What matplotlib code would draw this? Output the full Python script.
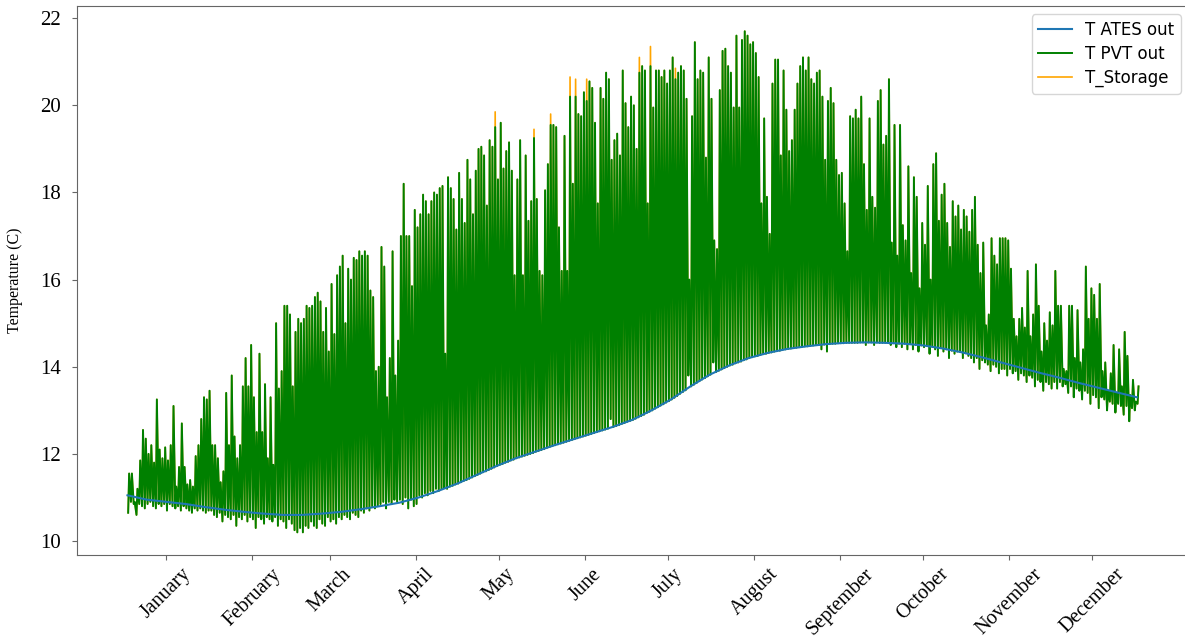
import numpy as np
import matplotlib
matplotlib.use("Agg")
import matplotlib.pyplot as plt

# Daily maximum of the PVT outlet temperature (C), one list per month
pvt_peak_jan = [11.55, 11.55, 10.9, 11.2, 11.85, 12.55, 12.35, 12.0, 12.2, 11.8, 13.25, 12.1, 11.9, 12.15, 11.85, 12.2,
                13.1, 11.25, 11.7, 12.7, 11.7, 11.3, 11.4, 11.25, 11.95, 12.2, 12.8, 13.3, 13.25, 13.45, 12.2]
pvt_peak_feb = [12.2, 11.9, 11.35, 11.6, 13.4, 12.2, 13.8, 12.4, 11.9, 12.2, 13.55, 14.2, 13.55, 14.5, 13.3, 12.5,
                14.3, 12.5, 13.6, 11.9, 13.3, 11.75, 15.0, 13.5, 13.9, 15.4, 15.4, 15.2]
pvt_peak_mar = [13.55, 14.8, 15.1, 15.0, 15.1, 15.4, 15.35, 15.4, 15.6, 15.7, 15.5, 14.8, 15.35, 14.35, 15.9, 14.75,
                16.1, 16.3, 16.55, 15.0, 16.25, 16.0, 16.5, 16.45, 16.65, 16.55, 16.65, 16.55, 15.75, 15.6, 13.9]
pvt_peak_apr = [14.0, 16.75, 16.3, 13.3, 14.2, 16.65, 13.8, 14.6, 17.0, 18.2, 17.0, 17.0, 15.85, 17.6, 17.2, 17.5,
                17.95, 17.8, 17.5, 17.8, 18.0, 17.95, 18.1, 18.15, 14.3, 18.35, 18.1, 17.85, 17.15, 18.45]
pvt_peak_may = [17.85, 17.3, 18.75, 18.3, 17.5, 18.5, 19.0, 19.05, 18.85, 17.7, 19.2, 19.05, 19.5, 18.3, 19.6, 18.55,
                18.95, 19.15, 18.5, 16.1, 18.3, 19.2, 16.1, 18.85, 17.35, 17.8, 19.25, 17.85, 16.2, 16.1, 18.05]
pvt_peak_jun = [18.65, 19.55, 19.55, 19.5, 17.2, 16.2, 19.3, 16.2, 20.2, 18.2, 20.2, 19.8, 19.75, 20.3, 20.1, 20.55,
                20.4, 19.6, 17.75, 20.4, 20.15, 20.75, 20.6, 18.75, 19.2, 19.35, 18.85, 20.8, 20.05, 19.5]
pvt_peak_jul = [20.2, 20.0, 19.0, 20.75, 20.9, 20.8, 17.75, 20.9, 19.95, 20.8, 20.8, 20.65, 20.8, 20.5, 20.8, 21.1,
                20.6, 20.75, 20.9, 20.8, 20.15, 16.0, 19.75, 21.45, 20.6, 20.8, 20.75, 18.8, 21.1, 20.15, 16.9]
pvt_peak_aug = [16.7, 20.35, 21.25, 21.3, 20.9, 20.75, 19.95, 21.6, 19.95, 21.5, 21.7, 21.6, 21.4, 21.45, 21.2, 20.65,
                17.75, 19.7, 17.9, 17.05, 20.5, 21.05, 21.05, 18.85, 20.8, 19.9, 18.95, 19.2, 19.9, 20.5, 20.9]
pvt_peak_sep = [21.1, 20.8, 21.1, 20.6, 20.5, 20.75, 20.8, 20.2, 18.75, 20.1, 20.4, 20.05, 18.75, 18.4, 18.45, 17.75,
                16.65, 19.75, 19.7, 19.9, 19.7, 20.2, 18.65, 17.6, 19.7, 17.9, 17.65, 20.1, 20.35, 19.1]
pvt_peak_oct = [19.3, 20.6, 16.85, 19.55, 16.55, 19.55, 17.25, 16.9, 18.6, 16.15, 18.35, 17.9, 15.8, 17.3, 16.8, 18.15,
                16.0, 18.65, 18.9, 17.35, 17.95, 18.2, 17.3, 16.75, 17.8, 17.45, 17.7, 17.15, 17.6, 17.45, 17.1]
pvt_peak_nov = [17.6, 17.9, 16.8, 16.15, 16.85, 14.95, 15.2, 16.95, 16.55, 16.35, 16.95, 16.95, 16.95, 16.9, 16.25, 15.1,
                14.7, 15.1, 15.35, 14.9, 16.2, 14.7, 15.2, 16.35, 15.4, 14.35, 15.0, 14.6, 15.25, 14.95]
pvt_peak_dec = [16.2, 15.4, 15.4, 13.95, 13.9, 15.4, 15.4, 14.2, 15.3, 14.1, 14.4, 16.3, 15.1, 15.8, 15.65, 15.1,
                15.9, 13.9, 14.1, 13.45, 13.85, 14.5, 13.4, 14.4, 13.55, 14.8, 14.25, 13.35, 13.7, 13.2, 13.55]

# Nightly minimum of the PVT outlet temperature (C)
pvt_low_jan = [10.65, 10.9, 10.85, 10.6, 10.85, 10.8, 10.75, 10.85, 10.9, 10.8, 10.75, 10.85, 10.8, 10.85, 10.7, 10.85,
               10.8, 10.75, 10.8, 10.7, 10.8, 10.75, 10.7, 10.65, 10.75, 10.7, 10.75, 10.7, 10.65, 10.7, 10.7]
pvt_low_feb = [10.6, 10.55, 10.65, 10.45, 10.6, 10.55, 10.5, 10.6, 10.35, 10.55, 10.5, 10.6, 10.45, 10.55, 10.5, 10.3,
               10.55, 10.5, 10.4, 10.55, 10.5, 10.45, 10.55, 10.35, 10.5, 10.45, 10.3, 10.5]
pvt_low_mar = [10.4, 10.25, 10.2, 10.3, 10.2, 10.35, 10.3, 10.45, 10.35, 10.3, 10.5, 10.4, 10.35, 10.55, 10.45, 10.5,
               10.4, 10.55, 10.5, 10.6, 10.55, 10.5, 10.65, 10.6, 10.55, 10.7, 10.65, 10.75, 10.7, 10.8, 10.75]
pvt_low_apr = [10.8, 10.85, 10.9, 10.75, 10.9, 10.85, 10.95, 10.9, 10.95, 10.85, 11.0, 10.75, 10.95, 10.8, 10.85, 11.05,
               11.0, 11.1, 11.05, 11.15, 11.1, 11.2, 11.15, 11.2, 11.22, 11.2, 11.25, 11.27, 11.3, 11.32]
pvt_low_may = [11.35, 11.38, 11.4, 11.43, 11.46, 11.49, 11.52, 11.55, 11.58, 11.6, 11.63, 11.66, 11.69, 11.72, 11.75,
               11.77, 11.8, 11.82, 11.85, 11.87, 11.9, 11.92, 11.94, 11.96, 11.98, 12.0, 12.02, 12.05, 12.07, 12.09, 12.11]
pvt_low_jun = [12.14, 12.16, 12.18, 12.2, 12.22, 12.24, 12.26, 12.28, 12.3, 12.32, 12.34, 12.36, 12.38, 12.4, 12.42,
               12.44, 12.46, 12.48, 12.5, 12.52, 12.54, 12.56, 12.58, 12.8, 12.62, 12.64, 12.66, 12.69, 12.71, 12.74]
pvt_low_jul = [12.76, 12.78, 12.81, 12.84, 12.87, 12.9, 12.94, 12.97, 13.0, 13.04, 13.07, 13.11, 13.14, 13.18, 13.21,
               13.25, 13.29, 13.33, 13.38, 13.42, 13.46, 13.8, 13.55, 13.59, 13.63, 13.67, 13.71, 13.74, 13.78, 13.82, 14.1]
pvt_low_aug = [13.88, 13.91, 13.94, 13.97, 14.0, 14.03, 14.05, 14.08, 14.1, 14.12, 14.15, 14.17, 14.2, 14.22, 14.24,
               14.25, 14.27, 14.29, 14.3, 14.32, 14.33, 14.35, 14.36, 14.37, 14.39, 14.4, 14.41, 14.42, 14.43, 14.44, 14.45]
pvt_low_sep = [14.46, 14.47, 14.47, 14.48, 14.49, 14.5, 14.5, 14.4, 14.51, 14.35, 14.52, 14.53, 14.53, 14.54, 14.54,
               14.54, 14.55, 14.55, 14.55, 14.55, 14.55, 14.56, 14.56, 14.5, 14.56, 14.56, 14.5, 14.56, 14.55, 14.55]
pvt_low_oct = [14.55, 14.55, 14.5, 14.54, 14.45, 14.53, 14.45, 14.53, 14.4, 14.52, 14.4, 14.5, 14.35, 14.49, 14.45,
               14.48, 14.3, 14.46, 14.4, 14.25, 14.43, 14.35, 14.4, 14.2, 14.37, 14.3, 14.35, 14.34, 14.2, 14.31, 14.25]
pvt_low_nov = [14.2, 14.1, 14.2, 13.95, 14.15, 14.1, 14.05, 13.9, 14.05, 14.0, 13.85, 13.95, 13.95, 13.8, 13.95, 13.85,
               13.9, 13.7, 13.85, 13.8, 13.65, 13.8, 13.75, 13.55, 13.7, 13.65, 13.45, 13.65, 13.6, 13.5]
pvt_low_dec = [13.65, 13.5, 13.65, 13.55, 13.6, 13.4, 13.55, 13.3, 13.5, 13.45, 13.25, 13.45, 13.4, 13.15, 13.35, 13.3,
               13.05, 13.3, 13.25, 13.0, 13.2, 13.15, 12.95, 13.15, 13.1, 12.9, 13.1, 12.75, 13.05, 13.0, 13.15]

# ATES outlet temperature, one value per week (day 0, 7, ..., 364)
ates_weekly = [11.05, 10.95, 10.9, 10.85, 10.78, 10.72, 10.67, 10.63, 10.6, 10.6, 10.63, 10.67, 10.73, 10.8,
               10.88, 11.0, 11.15, 11.32, 11.52, 11.72, 11.9, 12.05, 12.2, 12.34, 12.48, 12.62, 12.78, 13.0,
               13.25, 13.55, 13.82, 14.03, 14.2, 14.32, 14.41, 14.47, 14.52, 14.55, 14.56, 14.55, 14.53, 14.49,
               14.42, 14.33, 14.22, 14.1, 13.98, 13.86, 13.75, 13.63, 13.52, 13.41, 13.3]

# days on which the storage tank peaks above the PVT outlet
storage_days = [132, 146, 152, 159, 161, 165, 184, 188, 197]
storage_peaks = [19.85, 19.45, 19.8, 20.65, 20.6, 20.6, 21.1, 21.35, 20.85]

month_names = ['January', 'February', 'March', 'April', 'May', 'June', 'July',
               'August', 'September', 'October', 'November', 'December']
month_start = [0, 31, 59, 90, 120, 151, 181, 212, 243, 273, 304, 334]

pvt_peak = np.concatenate([pvt_peak_jan, pvt_peak_feb, pvt_peak_mar, pvt_peak_apr, pvt_peak_may, pvt_peak_jun,
                           pvt_peak_jul, pvt_peak_aug, pvt_peak_sep, pvt_peak_oct, pvt_peak_nov, pvt_peak_dec])
pvt_low = np.concatenate([pvt_low_jan, pvt_low_feb, pvt_low_mar, pvt_low_apr, pvt_low_may, pvt_low_jun,
                          pvt_low_jul, pvt_low_aug, pvt_low_sep, pvt_low_oct, pvt_low_nov, pvt_low_dec])
storage_peak = pvt_peak.copy()
storage_peak[storage_days] = storage_peaks

# night minimum early in the day, maximum around midday
days = np.arange(len(pvt_peak))
t = np.column_stack([days + 0.25, days + 0.6]).ravel()
pvt = np.column_stack([pvt_low, pvt_peak]).ravel()
storage = np.column_stack([pvt_low, storage_peak]).ravel()
ates_days = np.arange(len(ates_weekly)) * 7

serif = 'Liberation Serif'

fig = plt.figure(figsize=(11.85, 6.41), dpi=100)
ax = fig.add_axes([77 / 1185, 86 / 641, (1189 - 77) / 1185, 549 / 641])

ax.plot(ates_days, ates_weekly, color='#1f77b4', lw=1.5, label='T ATES out', zorder=4)
ax.plot(t, pvt, color='green', lw=1.4, label='T PVT out', zorder=3)
ax.plot(t, storage, color='orange', lw=1.2, label='T_Storage', zorder=2)

ax.set_xlim(-18.2, 382.8)
ax.set_ylim(9.68, 22.28)
ax.set_yticks(range(10, 23, 2))
ax.set_xticks([s + 14 for s in month_start])
ax.set_xticklabels(month_names, rotation=45, fontsize=14.5, family=serif)
for lbl in ax.get_yticklabels():
    lbl.set_family(serif)
    lbl.set_fontsize(15)
ax.tick_params(axis='y', pad=8)
ax.set_ylabel('Temperature (C)', fontsize=11.5, family=serif, labelpad=12)

for sp in ax.spines.values():
    sp.set_color('0.4')
ax.tick_params(color='0.4')

ax.legend(loc='upper right', fontsize=12, labelspacing=0.35)

fig.savefig('out.png', dpi=100)
